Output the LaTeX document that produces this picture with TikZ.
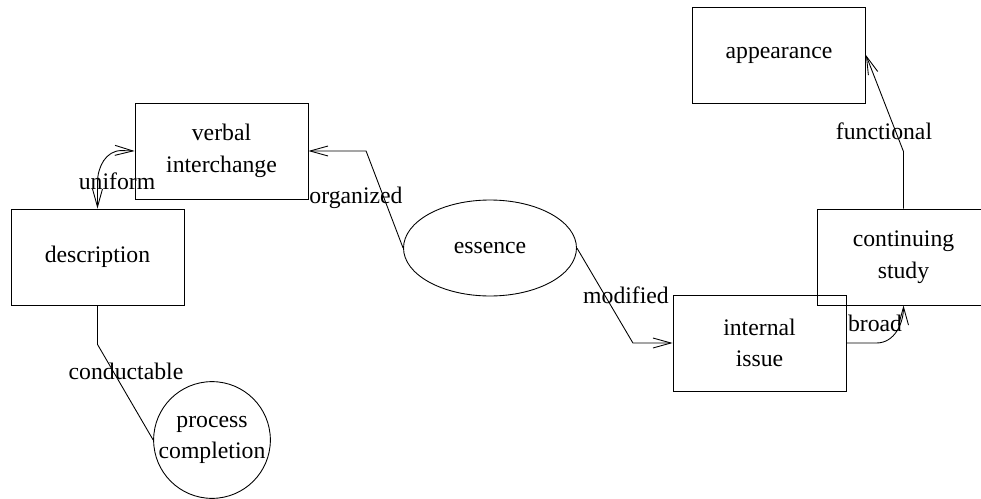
\documentclass[tikz,border=0pt]{standalone}
\usepackage{fontspec}
\setmainfont{Liberation Serif}
\usetikzlibrary{arrows.meta, positioning, shapes.geometric}

\begin{document}
\begin{tikzpicture}[
  x=0.02cm, y=0.02cm, line width=0.5pt,
  box/.style={draw, minimum width=3.46cm, minimum height=1.92cm,
              inner sep=0pt, align=center, font=\fontsize{13.5}{18}\selectfont},
  oval/.style={draw, ellipse, minimum width=3.46cm, minimum height=1.92cm,
               inner sep=0pt, font=\fontsize{13.5}{18}\selectfont},
  round/.style={draw, circle, minimum size=2.3cm, inner sep=0pt,
                align=center, font=\fontsize{13.5}{18}\selectfont},
  lbl/.style={inner sep=0pt, font=\fontsize{13.5}{18}\selectfont},
  arr/.style={-{Straight Barb[length=3.6mm, width=2mm]}},
  arrs/.style={{Straight Barb[length=3.6mm, width=2mm]}-{Straight Barb[length=3.6mm, width=2mm]}}
]
  \useasboundingbox (0,0) rectangle (981,498);

  % Nodes
  \node[box] (verbal) at (221.5, 347) {verbal\\interchange};
  \node[box] (description) at (97.5, 241) {description};
  \node[oval] (essence) at (490, 250) {essence};
  \node[round] (process) at (212, 58) {process\\completion};
  \node[box] (appearance) at (779, 443) {appearance};
  \node[box] (continuing) at (903.5, 241) {continuing\\study};
  \node[box] (internal) at (759.5, 155) {internal\\issue};

  % Edges
  \draw[arrs] (description.north) -- ++(0,26) to[out=90, in=180] ++(24,32)
    -- (verbal.west);
  \node[lbl] (l-uniform) at (117, 317) {uniform};

  \draw[arr] (essence.west) -- ++(-37,97) |- (verbal.east);
  \node[lbl] (l-organized) at (356, 300) {organized};

  \draw[arr] (essence.east) -- ++(56,-95) |- (internal.west);
  \node[lbl] (l-modified) at (626, 203) {modified};

  \draw[arr] (internal.east) -- ++(30,0) to[out=0, in=-90] (continuing.south);
  \node[lbl] (l-broad) at (875, 175) {broad};

  \draw[arr] (continuing.north) -- ++(0,57) -- (appearance.east);
  \node[lbl] (l-functional) at (884, 367) {functional};

  \draw (description.south) -- ++(0,-39) -- (process.west);
  \node[lbl] (l-conductable) at (126, 127) {conductable};
\end{tikzpicture}
\end{document}
